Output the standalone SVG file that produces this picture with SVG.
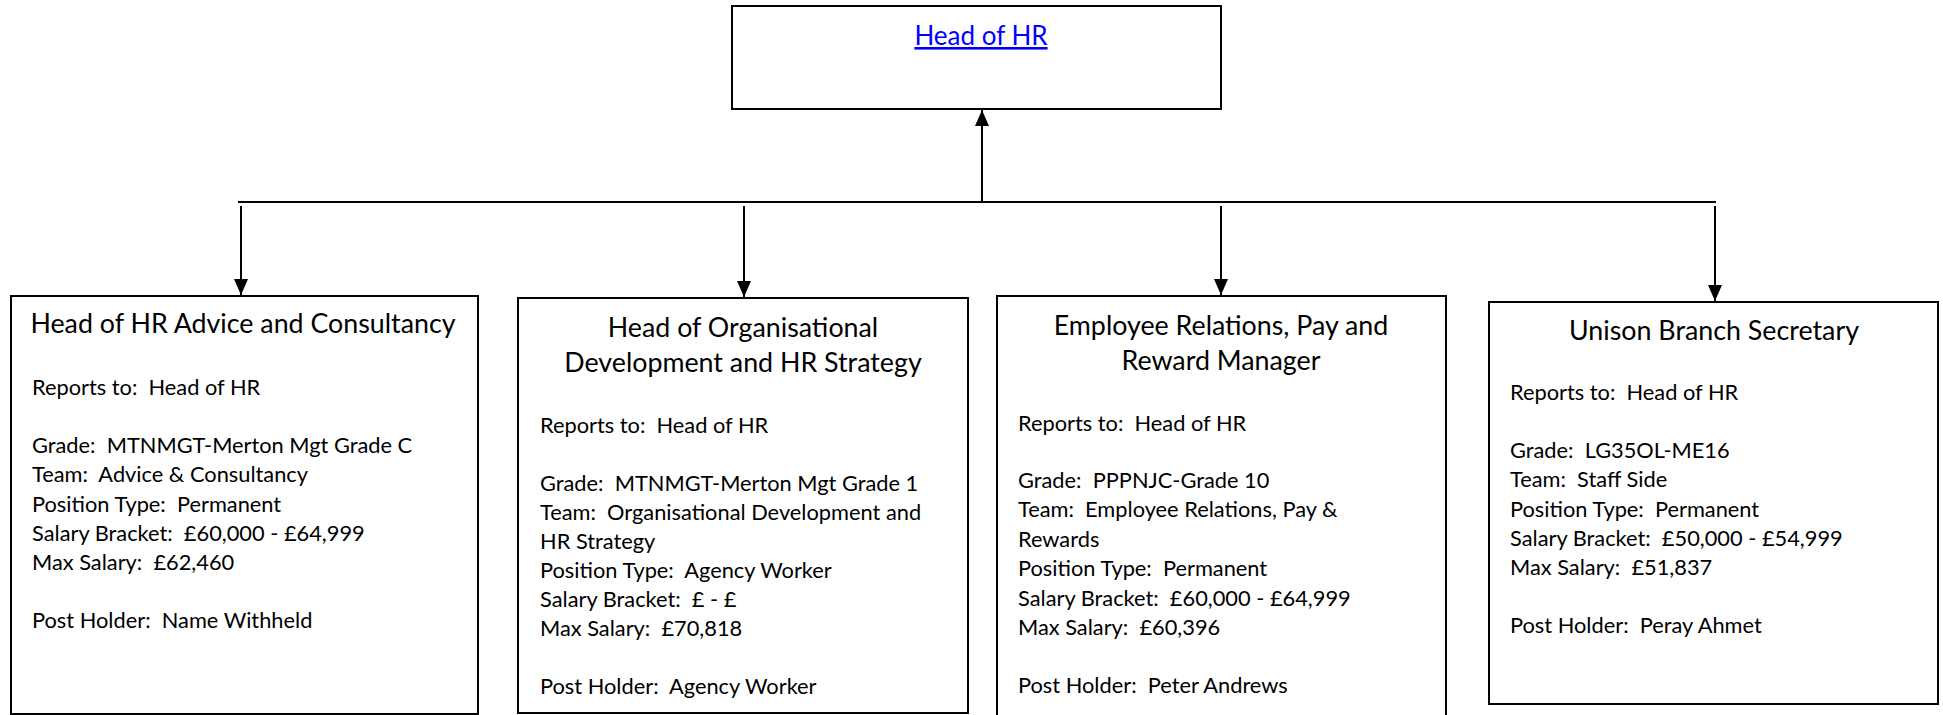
<svg xmlns="http://www.w3.org/2000/svg" width="1943" height="715" viewBox="0 0 1943 715">
<style>
.box{fill:#fff;stroke:#000;stroke-width:2}
.t{font-family:Lato,"Liberation Sans",sans-serif;fill:#000;white-space:pre}
.title{font-size:26.8px;text-anchor:middle}
.body{font-size:21.8px}
.link{font-family:Lato,"Liberation Sans",sans-serif;font-size:26px;fill:#0000FF;text-anchor:middle;text-decoration:underline}
.conn{stroke:#000;stroke-width:2;fill:none}
</style>
<defs>
<marker id="ahd" viewBox="0 0 16 14" refX="16" refY="7" markerWidth="16" markerHeight="14" markerUnits="userSpaceOnUse" orient="auto">
<path d="M0,0 L16,7 L0,14 z" fill="#000"/>
</marker>
</defs>
<g id="connectors">
<line class="conn" x1="982" y1="202" x2="982" y2="110" marker-end="url(#ahd)"/>
<line class="conn" x1="238" y1="202" x2="1716" y2="202"/>
<line class="conn" x1="241" y1="206" x2="241" y2="295" marker-end="url(#ahd)"/>
<line class="conn" x1="744" y1="206" x2="744" y2="297" marker-end="url(#ahd)"/>
<line class="conn" x1="1221" y1="206" x2="1221" y2="295" marker-end="url(#ahd)"/>
<line class="conn" x1="1715" y1="206" x2="1715" y2="301" marker-end="url(#ahd)"/>
</g>
<g id="head-of-hr">
<rect class="box" x="732" y="6" width="489" height="103"/>
<text class="link" x="981" y="45">Head of HR</text>
</g>
<g id="advice-consultancy">
<rect class="box" x="11" y="296" width="467" height="418"/>
<text class="t title" x="243" y="333">Head of HR Advice and Consultancy</text>
<text class="t body" x="32" y="395">Reports to:  Head of HR</text>
<text class="t body" x="32" y="453">Grade:  MTNMGT-Merton Mgt Grade C</text>
<text class="t body" x="32" y="482">Team:  Advice &amp; Consultancy</text>
<text class="t body" x="32" y="512">Position Type:  Permanent</text>
<text class="t body" x="32" y="541">Salary Bracket:  £60,000 - £64,999</text>
<text class="t body" x="32" y="570">Max Salary:  £62,460</text>
<text class="t body" x="32" y="628">Post Holder:  Name Withheld</text>
</g>
<g id="od-hr-strategy">
<rect class="box" x="518" y="298" width="450" height="415"/>
<text class="t title" x="743" y="337">Head of Organisational</text>
<text class="t title" x="743" y="372">Development and HR Strategy</text>
<text class="t body" x="540" y="433">Reports to:  Head of HR</text>
<text class="t body" x="540" y="491">Grade:  MTNMGT-Merton Mgt Grade 1</text>
<text class="t body" x="540" y="520">Team:  Organisational Development and</text>
<text class="t body" x="540" y="549">HR Strategy</text>
<text class="t body" x="540" y="578">Position Type:  Agency Worker</text>
<text class="t body" x="540" y="607">Salary Bracket:  £ - £</text>
<text class="t body" x="540" y="636">Max Salary:  £70,818</text>
<text class="t body" x="540" y="694">Post Holder:  Agency Worker</text>
</g>
<g id="er-pay-reward">
<rect class="box" x="997" y="296" width="449" height="425"/>
<text class="t title" x="1221" y="335">Employee Relations, Pay and</text>
<text class="t title" x="1221" y="370">Reward Manager</text>
<text class="t body" x="1018" y="431">Reports to:  Head of HR</text>
<text class="t body" x="1018" y="488">Grade:  PPPNJC-Grade 10</text>
<text class="t body" x="1018" y="517">Team:  Employee Relations, Pay &amp;</text>
<text class="t body" x="1018" y="547">Rewards</text>
<text class="t body" x="1018" y="576">Position Type:  Permanent</text>
<text class="t body" x="1018" y="606">Salary Bracket:  £60,000 - £64,999</text>
<text class="t body" x="1018" y="635">Max Salary:  £60,396</text>
<text class="t body" x="1018" y="693">Post Holder:  Peter Andrews</text>
</g>
<g id="unison">
<rect class="box" x="1489" y="302" width="449" height="402"/>
<text class="t title" x="1714" y="340">Unison Branch Secretary</text>
<text class="t body" x="1510" y="400">Reports to:  Head of HR</text>
<text class="t body" x="1510" y="458">Grade:  LG35OL-ME16</text>
<text class="t body" x="1510" y="487">Team:  Staff Side</text>
<text class="t body" x="1510" y="517">Position Type:  Permanent</text>
<text class="t body" x="1510" y="546">Salary Bracket:  £50,000 - £54,999</text>
<text class="t body" x="1510" y="575">Max Salary:  £51,837</text>
<text class="t body" x="1510" y="633">Post Holder:  Peray Ahmet</text>
</g>
</svg>
